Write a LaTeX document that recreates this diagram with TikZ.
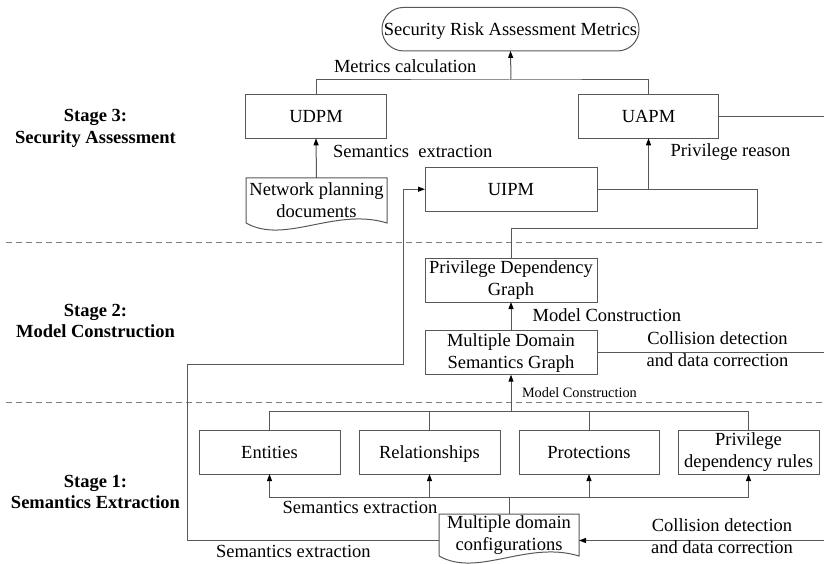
\documentclass[tikz,border=0pt]{standalone}
\usepackage{fontspec}
\setmainfont{Liberation Serif}
\usetikzlibrary{arrows.meta}
\definecolor{linegray}{RGB}{88,88,88}
\definecolor{dashgray}{RGB}{125,125,125}
\begin{document}
\begin{tikzpicture}[x=1pt,y=-1pt,
  every node/.style={inner sep=0pt,outer sep=0pt,text=black,
    font=\fontsize{18.5}{22}\selectfont},
  box/.style={draw=linegray,line width=1pt,rectangle,align=center,
    minimum height=44pt},
  oneline/.style={text height=12pt,text depth=0pt},
  docnode/.style={rectangle,align=center},
  docline/.style={draw=linegray,line width=1pt},
  conn/.style={draw=linegray,line width=1pt},
  arr/.style={conn,-{Triangle[length=7pt,width=5pt,color=black]}},
  stagelabel/.style={align=center,font=\fontsize{18.5}{21.5}\selectfont\bfseries},
  lbl/.style={anchor=base west},
  smalllbl/.style={anchor=base west,font=\fontsize{14.3}{17}\selectfont},
  twoline/.style={align=center},
  stagesep/.style={draw=dashgray,line width=0.9pt,dash pattern=on 6pt off 4pt}
]
\useasboundingbox[fill=white] (0,0) rectangle (824,564);

% stage separators
\coordinate (s1a) at (6,242.7);  \coordinate (s1b) at (824,242.7);
\coordinate (s2a) at (6,402.7);  \coordinate (s2b) at (824,402.7);
\draw[stagesep] (s1a) -- (s1b);
\draw[stagesep] (s2a) -- (s2b);

% stage titles
\node[stagelabel] (st3) at (95.5,128.4) {Stage 3:\\Security Assessment};
\node[stagelabel] (st2) at (95.5,320.8) {Stage 2:\\Model Construction};
\node[stagelabel] (st1) at (95.5,491.9) {Stage 1:\\Semantics Extraction};

% stage 3
\node[box,oneline,rounded corners=21.5pt,minimum width=257pt,minimum height=43.5pt]
  (srm) at (510.5,29.2) {Security Risk Assessment Metrics};
\node[box,oneline,minimum width=141pt] (udpm) at (316,116.3) {UDPM};
\node[box,oneline,minimum width=140pt] (uapm) at (648.5,116.3) {UAPM};
\node[box,oneline,minimum width=172pt] (uipm) at (511,189.2) {UIPM};
\node[docnode,minimum width=141pt,minimum height=45pt] (npd) at (316.5,200.5)
  {Network planning\\documents};
\draw[docline] (npd.south west) -- (npd.north west) -- (npd.north east)
  -- (npd.south east) .. controls +(-52,-16) and +(39,22) .. (npd.south west);

% stage 2
\node[box,minimum width=172pt] (pdg) at (511,280) {Privilege Dependency\\Graph};
\node[box,minimum width=172pt] (mdsg) at (511,352.7) {Multiple Domain\\Semantics Graph};

% stage 1
\node[box,oneline,minimum width=141pt,minimum height=43.5pt] (ent)  at (269.5,452.3) {Entities};
\node[box,oneline,minimum width=141pt,minimum height=43.5pt] (rel)  at (429.5,452.3) {Relationships};
\node[box,oneline,minimum width=140pt,minimum height=43.5pt] (prot) at (589,452.3) {Protections};
\node[box,minimum width=141pt,minimum height=43.5pt] (pdr)  at (748.5,452.3) {Privilege\\dependency rules};
\node[docnode,minimum width=140pt,minimum height=42pt] (mdc) at (509,535)
  {Multiple domain\\configurations};
\draw[docline] (mdc.south west) -- (mdc.north west) -- (mdc.north east)
  -- (mdc.south east) .. controls +(-52,-16) and +(39,22) .. (mdc.south west);

% routing points
\coordinate (mc) at (511,80);
\coordinate (r1) at (757,189.2);
\coordinate (r2) at (757,228.3);
\coordinate (l1) at (187,364);
\coordinate (l2) at (403,364);
\coordinate (t)  at (511,411.7);
\coordinate (b)  at (509,497.7);
\coordinate (e1) at (824,116.3);
\coordinate (e2) at (824,352.7);
\coordinate (e3) at (824,540.5);

% stage 3 connectors
\draw[conn] (udpm.north) |- (mc) -| (uapm.north);
\draw[arr] (mc) -- (srm.south);
\draw[arr] (npd.north) -- (udpm.south);
\draw[conn] (uapm.east) -- (e1);
\draw[conn] (pdg.north) |- (r2) -- (r1) -- (uipm.east);
\draw[arr] (uapm.south |- uipm.east) -- (uapm.south);

% stage 2 connectors
\draw[arr] (mdsg.north) -- (pdg.south);
\draw[conn] (mdsg.east) -- (e2);
\draw[arr] (t) -- (mdsg.south);

% stage 1 connectors
\draw[conn] (ent.north) |- (t) -| (pdr.north);
\draw[conn] (rel.north) -- (rel.north |- t);
\draw[conn] (prot.north) -- (prot.north |- t);
\draw[conn] (mdc.north) -- (b);
\draw[conn] (ent.south |- b) -- (pdr.south |- b);
\draw[arr] (ent.south |- b) -- (ent.south);
\draw[arr] (rel.south |- b) -- (rel.south);
\draw[arr] (prot.south |- b) -- (prot.south);
\draw[arr] (pdr.south |- b) -- (pdr.south);
\draw[arr] (e3) -- ([yshift=-5.5pt]mdc.east);
\draw[arr] ([yshift=-5.5pt]mdc.west) -| (l1) -- (l2) |- (uipm.west);

% connector labels
\node[lbl] (lmc)  at (334,73)      {Metrics calculation};
\node[lbl] (lse1) at (333,158)     {Semantics\ \ extraction};
\node[lbl] (lpr)  at (670.7,156.7) {Privilege reason};
\node[lbl] (lmc2) at (532.7,321)   {Model Construction};
\node[twoline] (lcd1) at (717.5,349.5) {Collision detection\\and data correction};
\node[smalllbl] (lmc1) at (522,397.7) {Model Construction};
\node[lbl] (lse2) at (282.7,513)   {Semantics extraction};
\node[lbl] (lse3) at (216,557.5)   {Semantics extraction};
\node[twoline] (lcd2) at (722,536.5) {Collision detection\\and data correction};
\end{tikzpicture}
\end{document}
